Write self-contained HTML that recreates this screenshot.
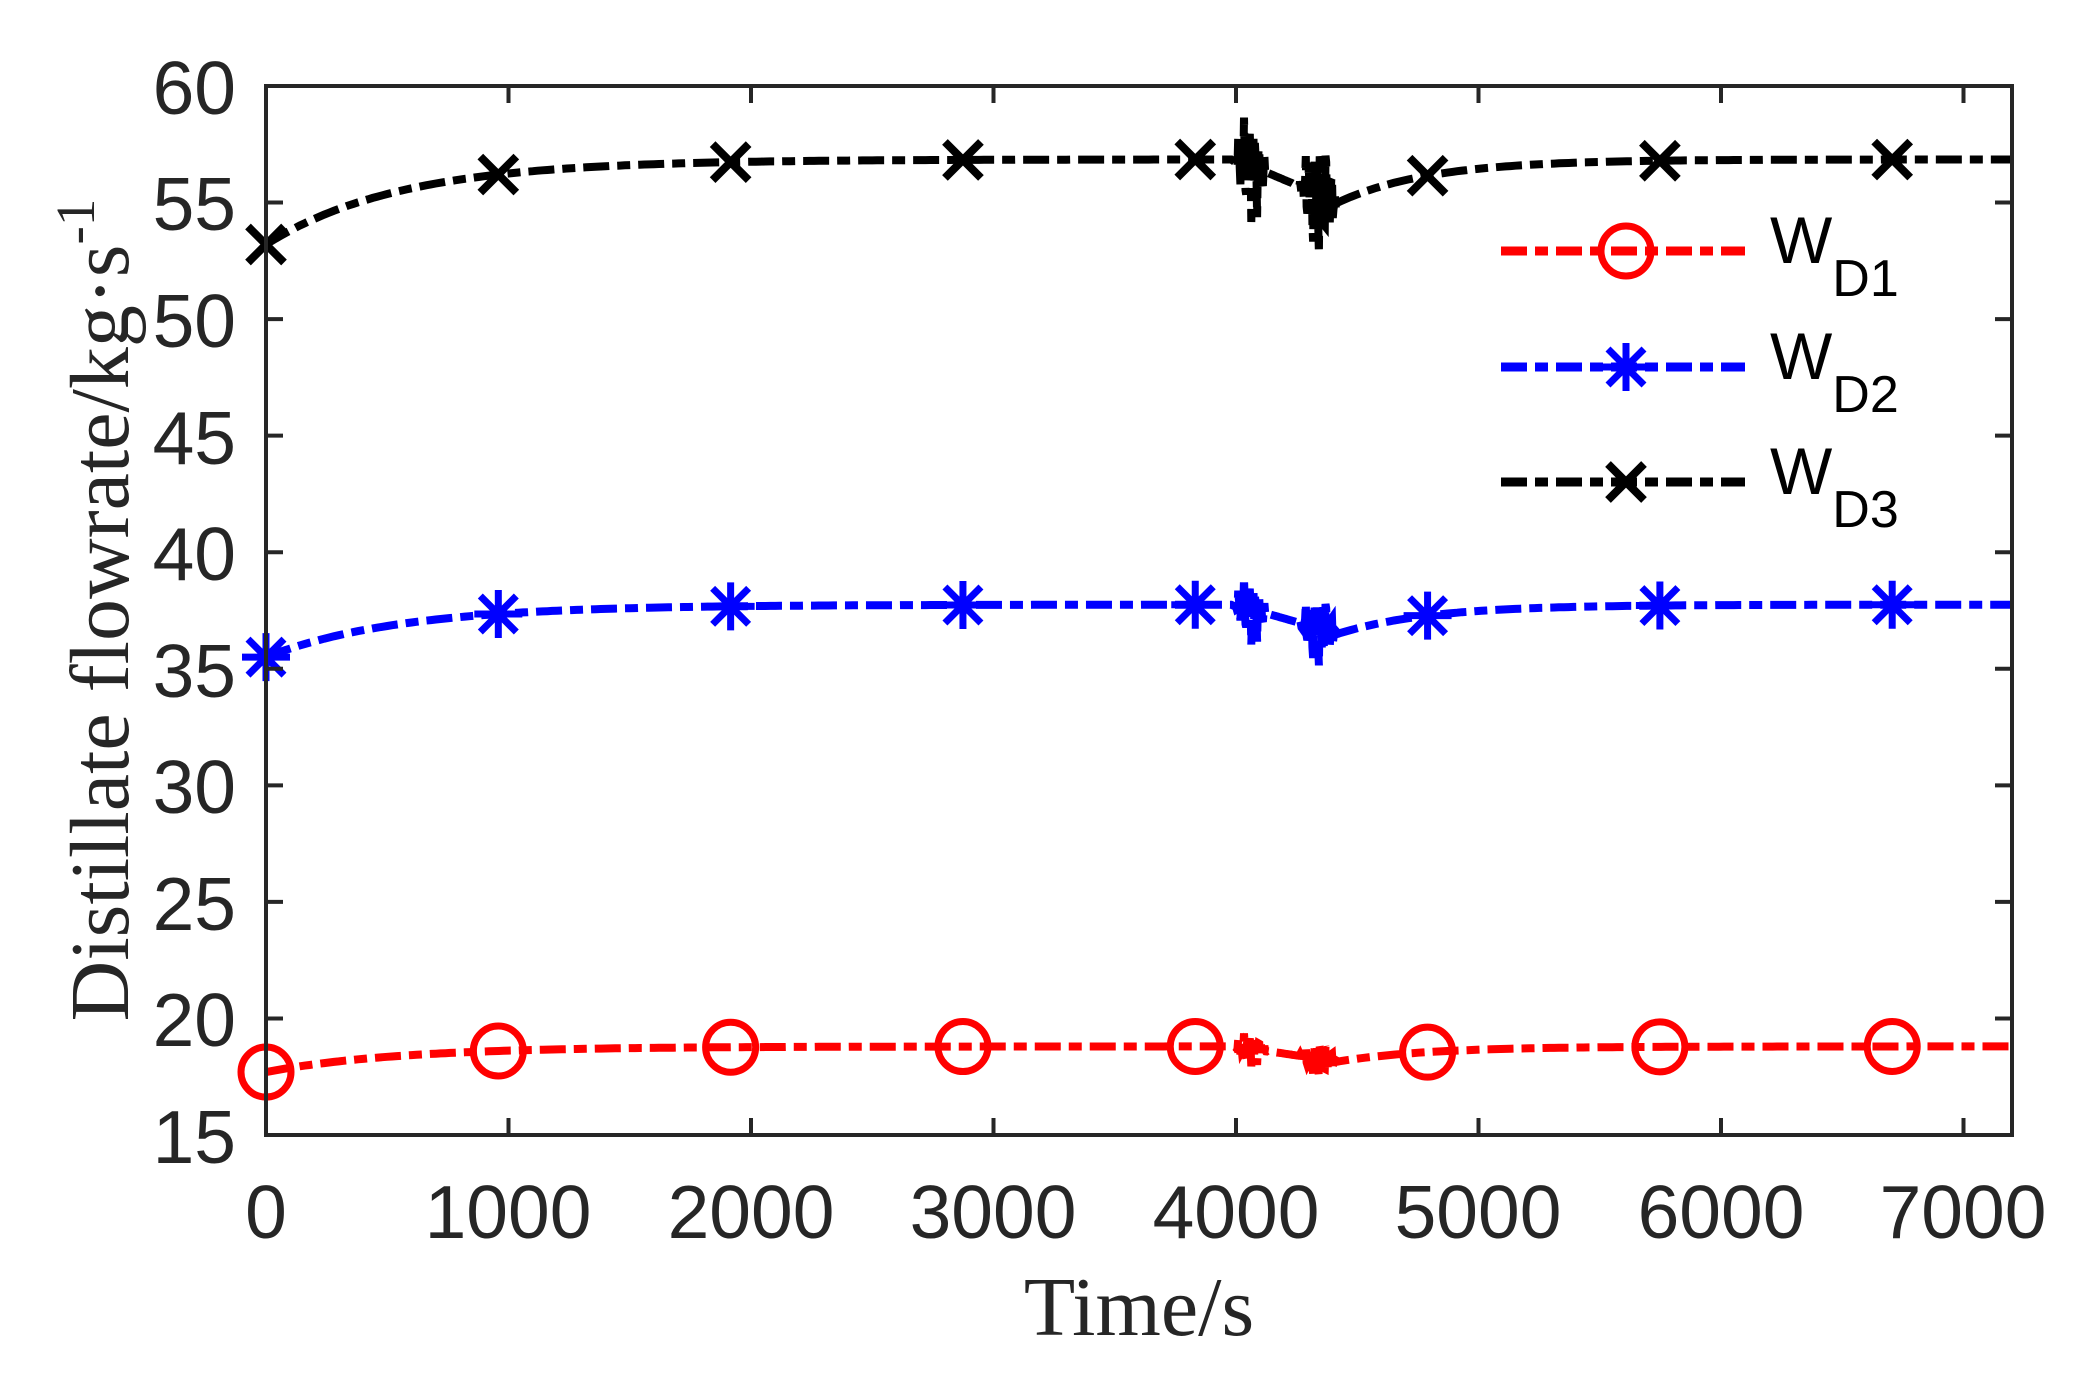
<!DOCTYPE html>
<html><head><meta charset="utf-8"><style>
html,body{margin:0;padding:0;background:#fff}
svg{display:block}
.tk{font-family:"Liberation Sans",sans-serif;font-size:75px;fill:#262626}
.lab{font-family:"Liberation Serif",serif;font-size:84px;fill:#262626}
.lg{font-family:"Liberation Sans",sans-serif;fill:#000}
</style></head><body>
<svg id="s" width="2082" height="1377" viewBox="0 0 2082 1377" xmlns="http://www.w3.org/2000/svg">
<rect width="2082" height="1377" fill="#fff"/>
<g id="curves"></g>
<g id="axes" stroke="#262626" stroke-width="4" fill="none"></g>
<g class="tk" text-anchor="end">
<text x="236" y="114">60</text><text x="236" y="230">55</text><text x="236" y="347">50</text>
<text x="236" y="464">45</text><text x="236" y="580">40</text><text x="236" y="697">35</text>
<text x="236" y="813">30</text><text x="236" y="930">25</text><text x="236" y="1046">20</text>
<text x="236" y="1163">15</text>
</g>
<g class="tk" text-anchor="middle">
<text x="266" y="1238">0</text><text x="508" y="1238">1000</text><text x="751" y="1238">2000</text>
<text x="993" y="1238">3000</text><text x="1236" y="1238">4000</text><text x="1478" y="1238">5000</text>
<text x="1721" y="1238">6000</text><text x="1963" y="1238">7000</text>
</g>
<text class="lab" x="1139" y="1335" text-anchor="middle">Time/s</text>
<text class="lab" transform="translate(128,610) rotate(-90)" text-anchor="middle">Distillate flowrate/kg·s<tspan dy="-34" font-size="55">-1</tspan></text>
<g class="lg">
<text x="1770" y="263" font-size="66">W<tspan dy="33" font-size="52">D1</tspan></text>
<text x="1770" y="379" font-size="66">W<tspan dy="33" font-size="52">D2</tspan></text>
<text x="1770" y="494" font-size="66">W<tspan dy="33" font-size="52">D3</tspan></text>
</g>
</svg>
<script>
(function(){
var L=266,R=2012,T=86,B=1135;
function X(t){return L+(t/7200)*(R-L);}
function Y(v){return B-(v-15)*(B-T)/45;}
var ax=document.getElementById('axes'),NS="http://www.w3.org/2000/svg";
function el(p,tag,a){var e=document.createElementNS(NS,tag);for(var k in a)e.setAttribute(k,a[k]);p.appendChild(e);return e;}
el(ax,'rect',{x:L,y:T,width:R-L,height:B-T});
var d="";
for(var t=0;t<=7000;t+=1000){var x=X(t);d+="M"+x+" "+B+"v-17M"+x+" "+T+"v17";}
for(var v=15;v<=60;v+=5){var y=Y(v);d+="M"+L+" "+y+"h17M"+R+" "+y+"h-17";}
el(ax,'path',{d:d});
var cg=document.getElementById('curves');
function noise(t){return Math.sin(t*0.53)*0.6+Math.sin(t*0.29+1)*0.5+Math.sin(t*1.1+2)*0.3;}
var ser=[
 {c:'#ff0000',S:18.8,A:1.1,dip:18.15,n:0.6,m:'o'},
 {c:'#0000ff',S:37.75,A:2.25,dip:36.5,n:1.2,m:'*'},
 {c:'#000000',S:56.85,A:3.65,dip:55.0,n:1.9,m:'x'}];
function f(s,t){
 if(t<4000) return s.S-s.A*Math.exp(-t/555);
 if(t<4420){var base=s.S+(s.dip-s.S)*(t-4000)/420;var nz=0;
   if(t>=3990&&t<=4130)nz=s.n*noise(t)*Math.sin(Math.PI*(t-3990)/140);
   if(t>=4260&&t<=4420)nz=s.n*1.2*noise(t+7)*Math.sin(Math.PI*(t-4260)/160);
   return base+nz;}
 return s.S-(s.S-s.dip)*Math.exp(-(t-4420)/380);
}
ser.forEach(function(s){
 var p="";
 for(var t=0;t<=7200;t+=(t>3980&&t<4430)?3:20){p+=(p?"L":"M")+X(t).toFixed(1)+" "+Y(f(s,t)).toFixed(1);}
 el(cg,'path',{d:p,fill:'none',stroke:s.c,'stroke-width':8,'stroke-dasharray':'26 8 13 8'});
 var ly={'o':251,'*':367,'x':482}[s.m];
 el(cg,'path',{d:"M1501 "+ly+"H1745",fill:'none',stroke:s.c,'stroke-width':9,'stroke-dasharray':'26 8 13 8'});
 var pts=[];for(var i=0;i<8;i++){var tt=i*958;pts.push([X(tt),Y(f(s,tt))]);}
 pts.push([1626,ly]);
 pts.forEach(function(q){var x=q[0],y=q[1];
  if(s.m=='o')el(cg,'circle',{cx:x,cy:y,r:25,fill:'none',stroke:s.c,'stroke-width':7});
  else if(s.m=='x')el(cg,'path',{d:"M"+(x-18)+" "+(y-18)+"l36 36M"+(x-18)+" "+(y+18)+"l36 -36",stroke:s.c,'stroke-width':8});
  else el(cg,'path',{d:"M"+x+" "+(y-24)+"v48M"+(x-18)+" "+(y-18)+"l36 36M"+(x-18)+" "+(y+18)+"l36 -36M"+(x-24)+" "+y+"h48",stroke:s.c,'stroke-width':7});
 });
});
})();
</script>
</body></html>
